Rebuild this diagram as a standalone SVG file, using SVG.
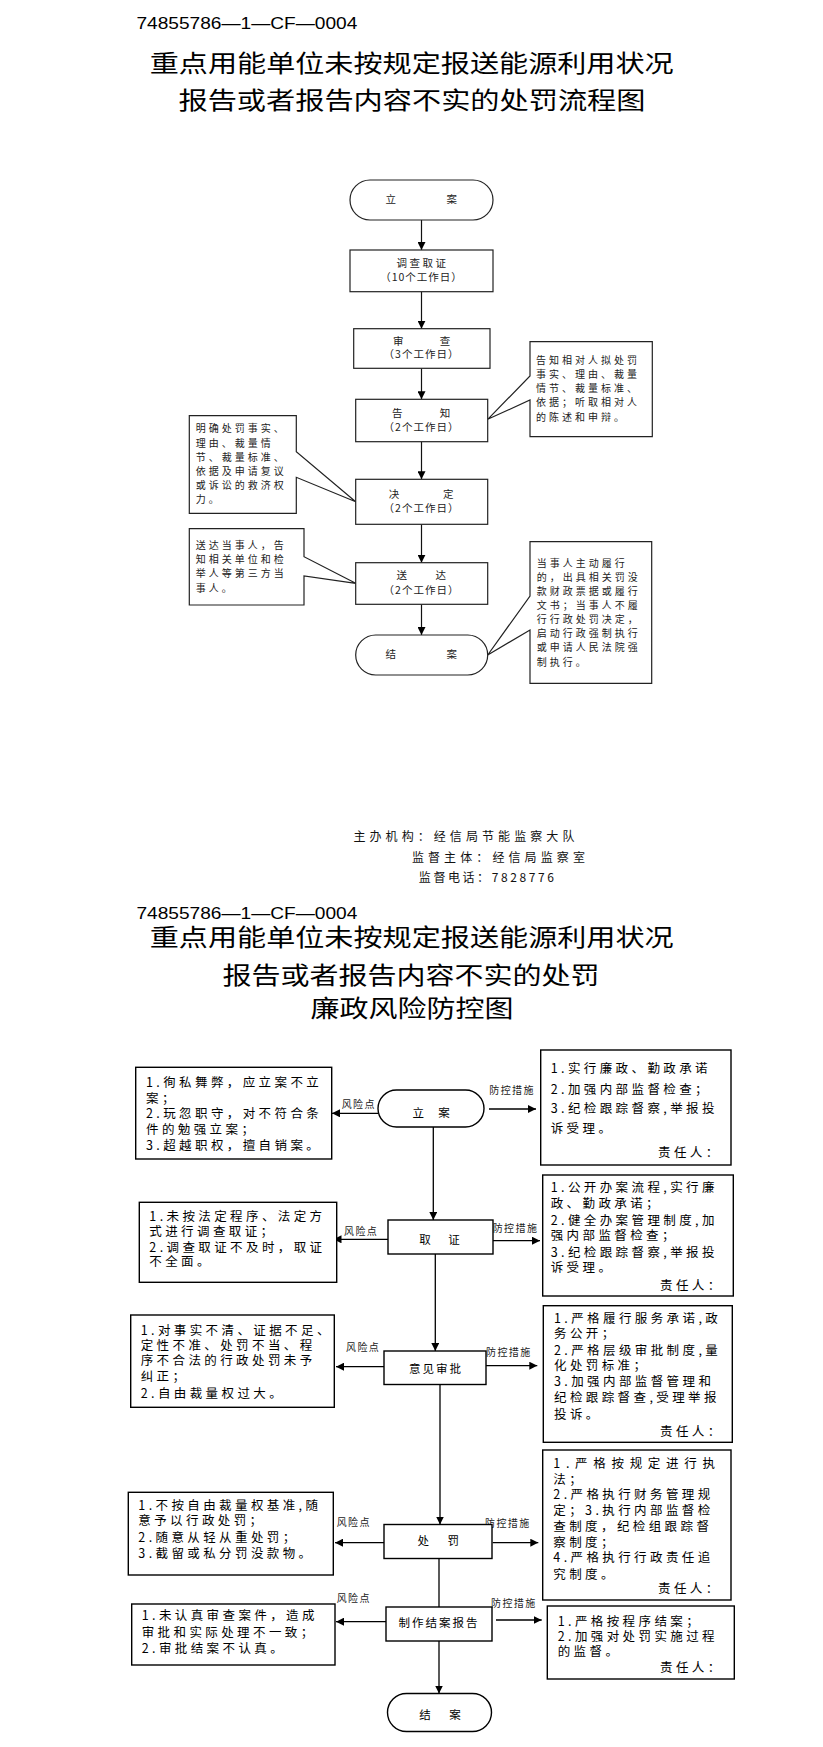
<svg xmlns="http://www.w3.org/2000/svg" width="823" height="1747" viewBox="0 0 823 1747">
<style>
.bg{fill:#fff}
.code{font-family:"Liberation Sans",Arial,sans-serif;font-size:17px;fill:#000}
.title{font-family:"Noto Sans CJK SC",sans-serif;font-size:24px;fill:#000}
.n1{fill:#fff;stroke:#222;stroke-width:1.2}
.t1{font-family:"Noto Sans CJK SC",sans-serif;font-size:10.5px;fill:#222}
.c1{font-family:"Noto Sans CJK SC",sans-serif;font-size:10px;letter-spacing:3px;fill:#222}
.mid{text-anchor:middle}
.foot{font-family:"Noto Sans CJK SC",sans-serif;font-size:12px;fill:#111}
.n2{fill:#fff;stroke:#000;stroke-width:1.4}
.t2{font-family:"Noto Sans CJK SC",sans-serif;font-size:12.5px;letter-spacing:3.4px;fill:#000}
.nt{font-family:"Noto Sans CJK SC",sans-serif;font-size:11.5px;fill:#000;text-anchor:middle}
.lab{font-family:"Noto Sans CJK SC",sans-serif;font-size:10px;letter-spacing:1.4px;fill:#222}
.ln{fill:none;stroke:#111;stroke-width:1.2}
.ln2{fill:none;stroke:#000;stroke-width:1.3}
</style>
<defs>
<marker id="ah" viewBox="0 0 10 10" refX="10" refY="5" markerWidth="8" markerHeight="8" markerUnits="userSpaceOnUse" orient="auto">
<path d="M0,0 L10,5 L0,10 Z" fill="#000"/>
</marker>
</defs>
<rect class="bg" x="0" y="0" width="823" height="1747"/>

<!-- ===== Part 1 heading ===== -->
<g id="heading1">
<text class="code" x="136.4" y="29.4" textLength="221" lengthAdjust="spacingAndGlyphs">74855786—1—CF—0004</text>
<text class="title" x="149.7" y="72" textLength="524" lengthAdjust="spacingAndGlyphs">重点用能单位未按规定报送能源利用状况</text>
<text class="title" x="178.5" y="109" textLength="467" lengthAdjust="spacingAndGlyphs">报告或者报告内容不实的处罚流程图</text>
</g>

<!-- ===== Part 1 connectors ===== -->
<g id="connectors1">
<line class="ln" x1="421.5" y1="220" x2="421.5" y2="250" marker-end="url(#ah)"/>
<line class="ln" x1="421.5" y1="291.7" x2="421.5" y2="328.7" marker-end="url(#ah)"/>
<line class="ln" x1="421.5" y1="368.3" x2="421.5" y2="399.3" marker-end="url(#ah)"/>
<line class="ln" x1="421.5" y1="441.7" x2="421.5" y2="479.3" marker-end="url(#ah)"/>
<line class="ln" x1="421.5" y1="524.3" x2="421.5" y2="562.7" marker-end="url(#ah)"/>
<line class="ln" x1="421.5" y1="604.3" x2="421.5" y2="635" marker-end="url(#ah)"/>
</g>

<!-- ===== Part 1 nodes ===== -->
<g id="p1-lian">
<rect class="n1" x="350" y="180" width="143" height="40" rx="20"/>
<text class="t1 mid" x="390.7" y="203.3">立</text>
<text class="t1 mid" x="451.7" y="203.3">案</text>
</g>
<g id="p1-diaocha">
<rect class="n1" x="350" y="250" width="143" height="41.7"/>
<text class="t1 mid" x="422.5" y="266.7" letter-spacing="2.5">调查取证</text>
<text class="t1 mid" x="421.5" y="281.3" letter-spacing="1">（10个工作日）</text>
</g>
<g id="p1-shencha">
<rect class="n1" x="353.7" y="328.7" width="136.3" height="39.6"/>
<text class="t1 mid" x="398.3" y="344.7">审</text>
<text class="t1 mid" x="445" y="344.7">查</text>
<text class="t1 mid" x="421.5" y="358" letter-spacing="1">（3个工作日）</text>
</g>
<g id="p1-gaozhi">
<rect class="n1" x="355.7" y="399.3" width="132" height="42.4"/>
<text class="t1 mid" x="397.3" y="417.3">告</text>
<text class="t1 mid" x="445" y="417.3">知</text>
<text class="t1 mid" x="421.5" y="431.3" letter-spacing="1">（2个工作日）</text>
</g>
<g id="p1-jueding">
<rect class="n1" x="355.7" y="479.3" width="132" height="45"/>
<text class="t1 mid" x="394" y="498.3">决</text>
<text class="t1 mid" x="448.3" y="498.3">定</text>
<text class="t1 mid" x="421.5" y="512.3" letter-spacing="1">（2个工作日）</text>
</g>
<g id="p1-songda">
<rect class="n1" x="355.7" y="562.7" width="132" height="41.6"/>
<text class="t1 mid" x="401.7" y="579">送</text>
<text class="t1 mid" x="440.7" y="579">达</text>
<text class="t1 mid" x="421.5" y="594" letter-spacing="1">（2个工作日）</text>
</g>
<g id="p1-jiean">
<rect class="n1" x="355.7" y="635" width="132" height="40" rx="20"/>
<text class="t1 mid" x="390.7" y="658">结</text>
<text class="t1 mid" x="451.7" y="658">案</text>
</g>

<g id="p1-note-gaozhi">
<path class="n1" d="M530,341.7 H652.3 V436.7 H530 V400 L487.7,419.3 L530,376 Z"/>
<text class="c1" x="536" y="364">告知相对人拟处罚</text>
<text class="c1" x="536" y="378">事实、理由、裁量</text>
<text class="c1" x="536" y="392.3">情节、裁量标准、</text>
<text class="c1" x="536" y="406.3">依据；听取相对人</text>
<text class="c1" x="536" y="420.7">的陈述和申辩。</text>
</g>
<g id="p1-note-jueding">
<path class="n1" d="M189.3,415.7 H296.3 V451.7 L355.7,501.7 L296.3,477.3 V513.3 H189.3 Z"/>
<text class="c1" x="195.7" y="432.3">明确处罚事实、</text>
<text class="c1" x="195.7" y="446.7">理由、裁量情</text>
<text class="c1" x="195.7" y="460.7">节、裁量标准、</text>
<text class="c1" x="195.7" y="475">依据及申请复议</text>
<text class="c1" x="195.7" y="489">或诉讼的救济权</text>
<text class="c1" x="195.7" y="503.3">力。</text>
</g>
<g id="p1-note-songda">
<path class="n1" d="M189.3,528.7 H304 V556.7 L355.7,583.3 L304,576 V605 H189.3 Z"/>
<text class="c1" x="195.7" y="549">送达当事人，告</text>
<text class="c1" x="195.7" y="563">知相关单位和检</text>
<text class="c1" x="195.7" y="577.3">举人等第三方当</text>
<text class="c1" x="195.7" y="591.7">事人。</text>
</g>
<g id="p1-note-jiean">
<path class="n1" d="M530,541.7 H651.7 V683.3 H530 V630 L487.7,655 L530,596 Z"/>
<text class="c1" x="536.7" y="566.7">当事人主动履行</text>
<text class="c1" x="536.7" y="580.7">的，出具相关罚没</text>
<text class="c1" x="536.7" y="595">款财政票据或履行</text>
<text class="c1" x="536.7" y="609">文书；当事人不履</text>
<text class="c1" x="536.7" y="623.3">行行政处罚决定，</text>
<text class="c1" x="536.7" y="637.3">启动行政强制执行</text>
<text class="c1" x="536.7" y="651.3">或申请人民法院强</text>
<text class="c1" x="536.7" y="665.7">制执行。</text>
</g>

<!-- ===== Footer ===== -->
<g id="footer">
<text class="foot" x="353.4" y="840.6" textLength="221" lengthAdjust="spacing">主办机构：经信局节能监察大队</text>
<text class="foot" x="411.9" y="862" textLength="173" lengthAdjust="spacing">监督主体：经信局监察室</text>
<text class="foot" x="418.8" y="882" textLength="135" lengthAdjust="spacing">监督电话：7828776</text>
</g>

<!-- ===== Part 2 heading ===== -->
<g id="heading2">
<text class="code" x="136.4" y="918.5" textLength="221" lengthAdjust="spacingAndGlyphs">74855786—1—CF—0004</text>
<text class="title" x="149.7" y="945.5" textLength="524" lengthAdjust="spacingAndGlyphs">重点用能单位未按规定报送能源利用状况</text>
<text class="title" x="222.5" y="984" textLength="377" lengthAdjust="spacingAndGlyphs">报告或者报告内容不实的处罚</text>
<text class="title" x="310.5" y="1017" textLength="203" lengthAdjust="spacingAndGlyphs">廉政风险防控图</text>
</g>

<!-- ===== Part 2 connectors ===== -->
<g id="connectors2">
<line class="ln2" x1="433.3" y1="1127" x2="433.3" y2="1220" marker-end="url(#ah)"/>
<line class="ln2" x1="435.3" y1="1254" x2="435.3" y2="1351" marker-end="url(#ah)"/>
<line class="ln2" x1="440" y1="1384.5" x2="440" y2="1524.5" marker-end="url(#ah)"/>
<line class="ln2" x1="439" y1="1558.5" x2="439" y2="1607"/>
<line class="ln2" x1="439" y1="1641" x2="439" y2="1693.5" marker-end="url(#ah)"/>

<line class="ln2" x1="378.5" y1="1113.3" x2="332" y2="1113.3" marker-end="url(#ah)"/>
<line class="ln2" x1="489" y1="1109" x2="536" y2="1109" marker-end="url(#ah)"/>
<line class="ln2" x1="388" y1="1239.3" x2="333.5" y2="1239.3" marker-end="url(#ah)"/>
<line class="ln2" x1="493" y1="1240.7" x2="540" y2="1240.7" marker-end="url(#ah)"/>
<line class="ln2" x1="384" y1="1366.7" x2="336" y2="1366.7" marker-end="url(#ah)"/>
<line class="ln2" x1="486" y1="1365.7" x2="537.3" y2="1365.7" marker-end="url(#ah)"/>
<line class="ln2" x1="384" y1="1542.7" x2="335" y2="1542.7" marker-end="url(#ah)"/>
<line class="ln2" x1="492.7" y1="1542.7" x2="538.3" y2="1542.7" marker-end="url(#ah)"/>
<line class="ln2" x1="386" y1="1621.7" x2="336" y2="1621.7" marker-end="url(#ah)"/>
<line class="ln2" x1="496" y1="1620" x2="541.7" y2="1620" marker-end="url(#ah)"/>

<text class="lab" x="341.7" y="1107.8">风险点</text>
<text class="lab" x="344" y="1234.5">风险点</text>
<text class="lab" x="346" y="1350.5">风险点</text>
<text class="lab" x="336.7" y="1525.5">风险点</text>
<text class="lab" x="336.7" y="1602">风险点</text>
<text class="lab" x="489.3" y="1093.8">防控措施</text>
<text class="lab" x="492.7" y="1232">防控措施</text>
<text class="lab" x="486" y="1355.5">防控措施</text>
<text class="lab" x="485" y="1526.5">防控措施</text>
<text class="lab" x="491" y="1606.5">防控措施</text>
</g>

<!-- ===== Part 2 nodes ===== -->
<g id="p2-lian">
<rect class="n2" x="378" y="1090" width="106" height="37" rx="18.5"/>
<text class="nt" x="418.3" y="1117">立</text>
<text class="nt" x="444" y="1117">案</text>
</g>
<g id="p2-quzheng">
<rect class="n2" x="388" y="1220" width="105" height="34"/>
<text class="nt" x="425" y="1243.6">取</text>
<text class="nt" x="454" y="1243.6">证</text>
</g>
<g id="p2-yijian">
<rect class="n2" x="384" y="1351" width="102" height="33.5"/>
<text class="nt" x="436" y="1372.6" letter-spacing="2">意见审批</text>
</g>
<g id="p2-chufa">
<rect class="n2" x="384" y="1524.5" width="108" height="34"/>
<text class="nt" x="423.3" y="1545.3">处</text>
<text class="nt" x="453.3" y="1545.3">罚</text>
</g>
<g id="p2-zhizuo">
<rect class="n2" x="386" y="1607" width="106" height="34"/>
<text class="nt" x="439" y="1627" letter-spacing="2">制作结案报告</text>
</g>
<g id="p2-jiean">
<rect class="n2" x="387.5" y="1693.5" width="104" height="38" rx="19"/>
<text class="nt" x="425" y="1719.3">结</text>
<text class="nt" x="455" y="1719.3">案</text>
</g>

<g id="p2-risk1">
<rect class="n2" x="135.7" y="1067.3" width="196" height="91.7"/>
<text class="t2" x="146" y="1087">1.徇私舞弊，应立案不立</text>
<text class="t2" x="146" y="1102.5">案；</text>
<text class="t2" x="146" y="1118">2.玩忽职守，对不符合条</text>
<text class="t2" x="146" y="1133.5">件的勉强立案；</text>
<text class="t2" x="146" y="1150">3.超越职权，擅自销案。</text>
</g>
<g id="p2-ctrl1">
<rect class="n2" x="540.7" y="1050" width="190.3" height="115"/>
<text class="t2" x="550.7" y="1073.3">1.实行廉政、勤政承诺</text>
<text class="t2" x="550.7" y="1094">2.加强内部监督检查；</text>
<text class="t2" x="550.7" y="1113.3">3.纪检跟踪督察,举报投</text>
<text class="t2" x="550.7" y="1133.3">诉受理。</text>
<text class="t2" x="658" y="1156.7">责任人：</text>
</g>
<g id="p2-risk2">
<rect class="n2" x="139.3" y="1202.3" width="197.4" height="80"/>
<text class="t2" x="149.3" y="1220.7">1.未按法定程序、法定方</text>
<text class="t2" x="149.3" y="1235.5">式进行调查取证；</text>
<text class="t2" x="149.3" y="1251.5">2.调查取证不及时，取证</text>
<text class="t2" x="149.3" y="1266">不全面。</text>
</g>
<g id="p2-ctrl2">
<rect class="n2" x="542.7" y="1175" width="190.6" height="121"/>
<text class="t2" x="550.7" y="1191.7">1.公开办案流程,实行廉</text>
<text class="t2" x="550.7" y="1208">政、勤政承诺；</text>
<text class="t2" x="550.7" y="1224.5">2.健全办案管理制度,加</text>
<text class="t2" x="550.7" y="1240">强内部监督检查；</text>
<text class="t2" x="550.7" y="1256.5">3.纪检跟踪督察,举报投</text>
<text class="t2" x="550.7" y="1271.7">诉受理。</text>
<text class="t2" x="660" y="1290">责任人：</text>
</g>
<g id="p2-risk3">
<rect class="n2" x="130.7" y="1315" width="203.6" height="92.3"/>
<text class="t2" x="140.7" y="1335">1.对事实不清、证据不足、</text>
<text class="t2" x="140.7" y="1350">定性不准、处罚不当、程</text>
<text class="t2" x="140.7" y="1365">序不合法的行政处罚未予</text>
<text class="t2" x="140.7" y="1381">纠正；</text>
<text class="t2" x="140.7" y="1397.5">2.自由裁量权过大。</text>
</g>
<g id="p2-ctrl3">
<rect class="n2" x="543.3" y="1305.7" width="189" height="136.6"/>
<text class="t2" x="554" y="1323.3">1.严格履行服务承诺,政</text>
<text class="t2" x="554" y="1338.3">务公开；</text>
<text class="t2" x="554" y="1355">2.严格层级审批制度,量</text>
<text class="t2" x="554" y="1370">化处罚标准；</text>
<text class="t2" x="554" y="1385.7">3.加强内部监督管理和</text>
<text class="t2" x="554" y="1402.3">纪检跟踪督查,受理举报</text>
<text class="t2" x="554" y="1419">投诉。</text>
<text class="t2" x="660" y="1435.7">责任人：</text>
</g>
<g id="p2-risk4">
<rect class="n2" x="128.3" y="1492.3" width="205" height="82.7"/>
<text class="t2" x="138.3" y="1510">1.不按自由裁量权基准,随</text>
<text class="t2" x="138.3" y="1525">意予以行政处罚；</text>
<text class="t2" x="138.3" y="1541.7">2.随意从轻从重处罚；</text>
<text class="t2" x="138.3" y="1558.3">3.截留或私分罚没款物。</text>
</g>
<g id="p2-ctrl4">
<rect class="n2" x="542.7" y="1450" width="188.3" height="150"/>
<text class="t2" x="553.3" y="1468.3" textLength="165" lengthAdjust="spacing">1.严格按规定进行执</text>
<text class="t2" x="553.3" y="1484.3">法；</text>
<text class="t2" x="553.3" y="1499">2.严格执行财务管理规</text>
<text class="t2" x="553.3" y="1515">定；3.执行内部监督检</text>
<text class="t2" x="553.3" y="1531">查制度，纪检组跟踪督</text>
<text class="t2" x="553.3" y="1546.7">察制度；</text>
<text class="t2" x="553.3" y="1562.3">4.严格执行行政责任追</text>
<text class="t2" x="553.3" y="1579">究制度。</text>
<text class="t2" x="658" y="1593.3">责任人：</text>
</g>
<g id="p2-risk5">
<rect class="n2" x="131.7" y="1604" width="203.3" height="61"/>
<text class="t2" x="141.7" y="1620">1.未认真审查案件，造成</text>
<text class="t2" x="141.7" y="1636.7">审批和实际处理不一致；</text>
<text class="t2" x="141.7" y="1653.3">2.审批结案不认真。</text>
</g>
<g id="p2-ctrl5">
<rect class="n2" x="547.3" y="1606" width="187" height="73"/>
<text class="t2" x="557.7" y="1626">1.严格按程序结案；</text>
<text class="t2" x="557.7" y="1641">2.加强对处罚实施过程</text>
<text class="t2" x="557.7" y="1656">的监督。</text>
<text class="t2" x="660" y="1672.3">责任人：</text>
</g>
</svg>
